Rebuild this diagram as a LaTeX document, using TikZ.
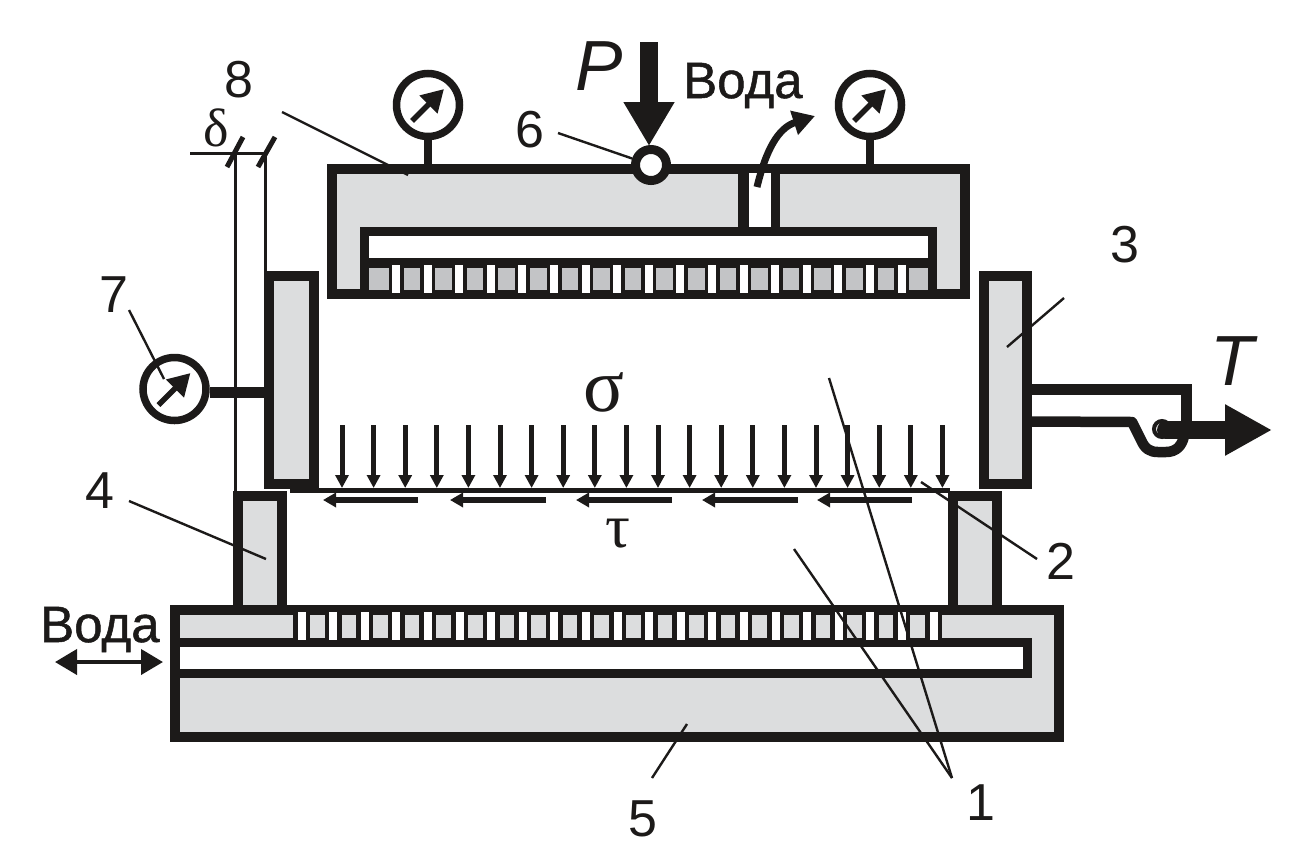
\documentclass[tikz,border=0pt]{standalone}
\usepackage{fontspec}
\setmainfont{Liberation Sans}
\newfontfamily\greekfont{Liberation Serif}
\newfontfamily\waterfont[FakeBold=1]{Liberation Sans}
\usetikzlibrary{arrows.meta}
\definecolor{ink}{HTML}{1C1A19}
\definecolor{lightgray}{HTML}{DCDDDE}
\definecolor{slotgray}{HTML}{C3C4C6}

\begin{document}
\begin{tikzpicture}[x=1pt,y=-1pt,
  body/.style={rectangle,draw=ink,fill=lightgray,line width=10pt,inner sep=0pt},
  gauge node/.style={circle,draw=ink,fill=white,line width=7.5pt,minimum size=63pt,inner sep=0pt},
  num node/.style={inner sep=0pt,text=ink,font=\fontsize{52}{52}\selectfont},
  water node/.style={inner sep=0pt,text=ink,anchor=base west,font=\fontsize{51}{51}\selectfont\waterfont},
  letter node/.style={inner sep=0pt,text=ink,font=\fontsize{71}{71}\selectfont\itshape},
  greek node/.style={inner sep=0pt,text=ink,font=\fontsize{62}{62}\selectfont\greekfont},
  leader/.style={draw=ink,line width=2.4pt},
  stem/.style={draw=ink,line width=8pt},
  needle/.style={draw=ink,line width=5.5pt,-{Triangle[length=22pt,width=24pt]}},
  sigma arrow/.style={draw=ink,line width=5pt,-{Triangle[length=13pt,width=13pt]}},
  tau arrow/.style={draw=ink,line width=5.5pt,-{Triangle[length=13pt,width=14pt]}},
  load arrow/.style={draw=ink,line width=18pt,-{Triangle[length=44pt,width=48pt]}}]

  \path[use as bounding box] (0,0) rectangle (1290,860);

  % supports and side plates
  \node[body,minimum width=44pt,minimum height=114pt] (supportL) at (260,553) {};
  \node[body,minimum width=44pt,minimum height=114pt] (supportR) at (974.5,553) {};
  \node[body,minimum width=45pt,minimum height=208pt] (plateL) at (291.5,380) {};
  \node[body,minimum width=43pt,minimum height=208pt] (plateR) at (1005.5,380) {};

  % upper block
  \node[body,minimum width=633pt,minimum height=125pt] (press) at (648,231) {};
  \draw[ink,line width=9pt,fill=white] (364.5,231.5) rectangle (932.5,262.5);
  \fill[ink] (360,262) rectangle (937,293);
  \fill[slotgray] (369,268) rectangle (928,290);
  \foreach \k in {0,...,16} {
    \fill[ink] ({388.5+31.6*\k},267) rectangle ({403.5+31.6*\k},290);
    \fill[white] ({392+31.6*\k},265) rectangle ({400+31.6*\k},293);
  }
  \fill[ink] (738,173) rectangle (780,232);
  \fill[white] (749,173) rectangle (771,227);

  % lower block
  \node[body,minimum width=884.5pt,minimum height=127.5pt] (base) at (617,673.25) {};
  \draw[ink,line width=9pt,fill=white] (175,642.5) rectangle (1027.5,673.5);
  \foreach \k in {0,...,20} {
    \fill[ink] ({293+31.6*\k},614) rectangle ({310+31.6*\k},638);
    \fill[white] ({297.5+31.6*\k},612) rectangle ({305.5+31.6*\k},640);
  }

  % gap lines
  \draw[ink,line width=3pt] (235,152) -- (235,491);
  \draw[ink,line width=3pt] (265.5,152) -- (265.5,271);
  \draw[ink,line width=3pt] (190,153) -- (266,153);
  \draw[ink,line width=5pt] (227,167) -- (243,137);
  \draw[ink,line width=5pt] (258,167) -- (275,137);

  % gauges
  \node[gauge node] (gauge1) at (428,105) {};
  \node[gauge node] (gauge2) at (870,105) {};
  \node[gauge node] (gauge3) at (174.5,389) {};
  \draw[stem] (gauge1) -- (gauge1 |- press.north);
  \draw[stem] (gauge2) -- (gauge2 |- press.north);
  \coordinate (stem3) at (210,392.5);
  \draw[stem,line width=11pt] (stem3) -- (stem3 -| plateL.west);
  \foreach \g in {gauge1,gauge2,gauge3}
    \draw[needle] ([shift={(-16,16)}]\g.center) -- ([shift={(16,-16)}]\g.center);

  % force P and valve
  \coordinate (Ptop) at (649,42);
  \coordinate (Ptip) at (649,146);
  \draw[load arrow] (Ptop) -- (Ptip);
  \node[circle,draw=ink,fill=white,line width=9pt,minimum size=31pt,inner sep=0pt] (valve) at (651,165) {};

  % water outlet
  \coordinate (outA) at (757,187);
  \coordinate (outB) at (815,116);
  \draw[ink,line width=7pt,-{Triangle[length=22pt,width=24pt]}] (outA) .. controls (766,150) and (778,128) .. (outB);

  % water inlet
  \coordinate (inA) at (55,662);
  \coordinate (inB) at (163,662);
  \draw[ink,line width=4pt,{Triangle[length=22pt,width=25pt]}-{Triangle[length=22pt,width=25pt]}] (inA) -- (inB);

  % specimen
  \fill[ink] (290,484) rectangle (319,493);
  \draw[ink,line width=5.5pt] (300,490.5) -- (950,490.5);
  \foreach \k in {0,...,19}
    \draw[sigma arrow] ({342+31.6*\k},425) -- ({342+31.6*\k},488);
  \foreach \a/\b in {418/323,546/450,672/576,798/702,912/817}
    \draw[tau arrow] (\a,500) -- (\b,500);

  % traction hook
  \draw[ink,line width=10.5pt] (plateR.east |- 0,389.5) -- (1186.5,389.5) -- (1186.5,432);
  \draw[ink,line width=10.5pt,line join=round] (1032,421.5) -- (1132,422) -- (1141,440)
    .. controls (1145,449) and (1150,452) .. (1158,452) -- (1166,452)
    .. controls (1176,452) and (1182,446) .. (1184,436);
  \node[circle,draw=ink,fill=white,line width=4pt,minimum size=16pt,inner sep=0pt] (pin) at (1162,429) {};
  \coordinate (Tstart) at (1166,430);
  \coordinate (Ttip) at (1272,430);
  \draw[load arrow,line cap=round,-{Triangle[length=47pt,width=48pt]}] (Tstart) -- (Ttip);

  % labels
  \node[num node] (n1) at (981,803) {1};
  \node[num node] (n2) at (1061,561) {2};
  \node[num node] (n3) at (1125,245) {3};
  \node[num node] (n4) at (100,491) {4};
  \node[num node] (n5) at (643,819) {5};
  \node[num node] (n6) at (530,130) {6};
  \node[num node] (n7) at (114,295) {7};
  \node[num node] (n8) at (239,80) {8};
  \node[letter node] (P) at (599,66) {P};
  \node[letter node] (T) at (1232,361) {T};
  \node[water node] (waterT) at (683,98) {Вода};
  \node[water node] (waterB) at (40,642) {Вода};
  \node[greek node,font=\fontsize{54}{54}\selectfont\greekfont] (delta) at (216,128) {δ};
  \node[greek node,font=\fontsize{76}{76}\selectfont\greekfont] (sigma) at (604,392) {σ};
  \node[greek node] (tau) at (618,534) {τ};

  % leader lines
  \coordinate (a1) at (952,778);
  \coordinate (a1b) at (829,378);
  \coordinate (a1c) at (794,549);
  \coordinate (a2) at (1037,559);
  \coordinate (a2b) at (921,482);
  \coordinate (a3) at (1064,298);
  \coordinate (a3b) at (1007,347);
  \coordinate (a4) at (129,501);
  \coordinate (a4b) at (266,559);
  \coordinate (a5) at (652,778);
  \coordinate (a5b) at (687,724);
  \coordinate (a6) at (558,133);
  \coordinate (a7) at (129,310);
  \coordinate (a7b) at (164,379);
  \coordinate (a8) at (282,112);
  \coordinate (a8b) at (408,175);
  \draw[leader] (a1) -- (a1b);
  \draw[leader] (a1) -- (a1c);
  \draw[leader] (a2) -- (a2b);
  \draw[leader] (a3) -- (a3b);
  \draw[leader] (a4) -- (a4b);
  \draw[leader] (a5) -- (a5b);
  \draw[leader] (a6) -- (valve);
  \draw[leader] (a7) -- (a7b);
  \draw[leader] (a8) -- (a8b);
\end{tikzpicture}
\end{document}
